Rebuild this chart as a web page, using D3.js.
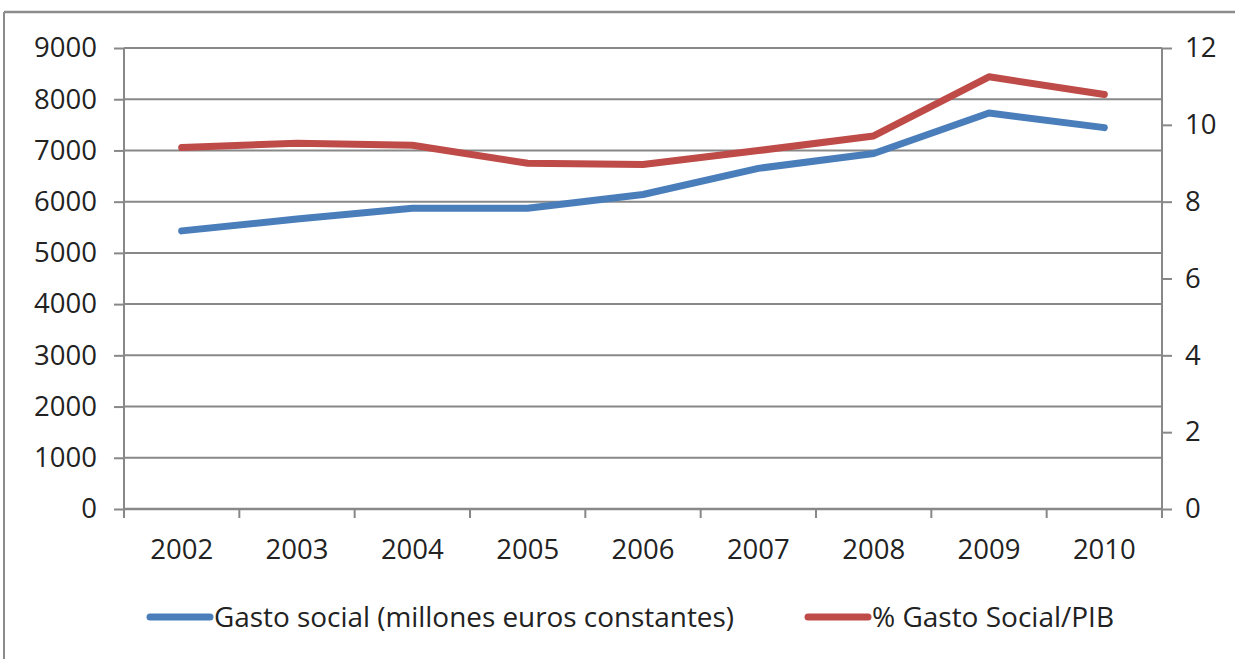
<!DOCTYPE html>
<html><head><meta charset="utf-8">
<script src="https://cdn.jsdelivr.net/npm/d3@7"></script>
<style>
html,body{margin:0;padding:0;background:#fff;}
svg{display:block;font-family:"Open Sans","Noto Sans",sans-serif;}
</style></head>
<body>
<svg id="c" width="1235" height="659"></svg>
<script>
const years = ["2002","2003","2004","2005","2006","2007","2008","2009","2010"];
const gastoSocial = [5430, 5660, 5870, 5870, 6140, 6650, 6940, 7730, 7445];
const pctPIB = [9.41, 9.52, 9.47, 9.0, 8.97, 9.33, 9.71, 11.25, 10.79];
const leftTicks = [0,1000,2000,3000,4000,5000,6000,7000,8000,9000];
const rightTicks = [0,2,4,6,8,10,12];
const seriesNames = ["Gasto social (millones euros constantes)", "% Gasto Social/PIB"];
const colors = ["#4A7EBB", "#BE4B48"];

const svg = d3.select("#c");
const L = 124, R = 1162, T = 48, B = 509;
const grid = "#888888";
const FS = 27.5;

// frame
svg.append("line").attr("x1",4).attr("x2",1235).attr("y1",12).attr("y2",12).attr("stroke","#8c8c8c").attr("stroke-width",2.5);
svg.append("line").attr("x1",4).attr("x2",4).attr("y1",12).attr("y2",659).attr("stroke","#8c8c8c").attr("stroke-width",2);

const x = d3.scaleBand().domain(years).range([L,R]);
const yL = d3.scaleLinear().domain([0,9000]).range([B,T]);
const yR = d3.scaleLinear().domain([0,12]).range([B,T]);

// gridlines
svg.append("g").selectAll("line").data(leftTicks).join("line")
  .attr("x1",L).attr("x2",R).attr("y1",d=>yL(d)).attr("y2",d=>yL(d))
  .attr("stroke",grid).attr("stroke-width",2);

// left axis
const gl = svg.append("g").attr("transform",`translate(${L},0)`)
  .call(d3.axisLeft(yL).tickValues(leftTicks).tickSize(10).tickPadding(17).tickFormat(d3.format("d")));
gl.select(".domain").attr("stroke",grid).attr("stroke-width",2).attr("d",`M-0,${T}V${B+8}`);
gl.selectAll(".tick line").attr("stroke",grid).attr("stroke-width",2);
gl.selectAll("text").attr("font-size",FS).attr("fill","#222").attr("font-family","'Open Sans',sans-serif");

// right axis
const gr = svg.append("g").attr("transform",`translate(${R},0)`)
  .call(d3.axisRight(yR).tickValues(rightTicks).tickSize(10).tickPadding(13));
gr.select(".domain").attr("stroke",grid).attr("stroke-width",2).attr("d",`M0,${T}V${B+8}`);
gr.selectAll(".tick line").attr("stroke",grid).attr("stroke-width",2);
gr.selectAll("text").attr("font-size",FS).attr("fill","#222").attr("font-family","'Open Sans',sans-serif");

// bottom axis
const gb = svg.append("g").attr("transform",`translate(0,${B})`)
  .call(d3.axisBottom(x).tickSize(0).tickPadding(30));
gb.select(".domain").remove();
gb.selectAll("text").attr("font-size",FS).attr("fill","#222").attr("font-family","'Open Sans',sans-serif");
svg.append("line").attr("x1",L).attr("x2",R).attr("y1",B).attr("y2",B).attr("stroke",grid).attr("stroke-width",2.5);
const bounds = years.map((d,i)=>x(d)).concat([R]);
svg.append("g").selectAll("line").data(bounds).join("line")
  .attr("x1",d=>d).attr("x2",d=>d).attr("y1",B).attr("y2",B+9)
  .attr("stroke",grid).attr("stroke-width",2);

// lines
const cx = d => x(d) + x.bandwidth()/2;
const lineL = d3.line().x((d,i)=>cx(years[i])).y(d=>yL(d));
const lineR = d3.line().x((d,i)=>cx(years[i])).y(d=>yR(d));
svg.append("path").datum(gastoSocial).attr("d",lineL).attr("fill","none")
  .attr("stroke",colors[0]).attr("stroke-width",7).attr("stroke-linecap","round").attr("stroke-linejoin","round");
svg.append("path").datum(pctPIB).attr("d",lineR).attr("fill","none")
  .attr("stroke",colors[1]).attr("stroke-width",7).attr("stroke-linecap","round").attr("stroke-linejoin","round");

// legend
const legX = [150, 808];
const leg = svg.append("g").selectAll("g").data(seriesNames).join("g")
  .attr("transform",(d,i)=>`translate(${legX[i]},617)`);
leg.append("line").attr("x1",0).attr("x2",60).attr("y1",0).attr("y2",0)
  .attr("stroke",(d,i)=>colors[i]).attr("stroke-width",7).attr("stroke-linecap","round");
leg.append("text").attr("x",64).attr("y",0).attr("dy","0.35em").attr("font-size",28).attr("fill","#222")
  .attr("textLength",(d,i)=>i===0?520:242).attr("lengthAdjust","spacingAndGlyphs")
  .text(d=>d);
</script>
</body></html>
